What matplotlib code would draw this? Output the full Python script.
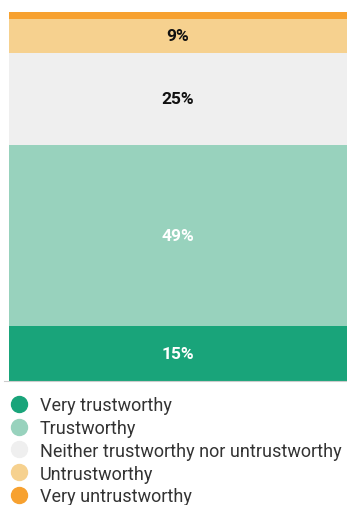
import matplotlib
matplotlib.use("Agg")
import matplotlib.pyplot as plt
from matplotlib.lines import Line2D

categories = ["Very trustworthy", "Trustworthy", "Neither trustworthy nor untrustworthy",
              "Untrustworthy", "Very untrustworthy"]
values = [15, 49, 25, 9, 2]
labels = ["15%", "49%", "25%", "9%", ""]
colors = ["#19a47a", "#98d2bd", "#efefef", "#f6d18f", "#f7a12f"]
text_colors = ["white", "white", "#111111", "#111111", "#111111"]

plt.rcParams['font.family'] = ['Roboto', 'DejaVu Sans']

W, H = 347, 506
fig = plt.figure(figsize=(W / 100, H / 100), dpi=100)
ax = fig.add_axes([4 / W, (H - 382) / H, 1 - 4 / W, (382 - 13) / H])

bottom = 0
for v, lab, c, tc in zip(values, labels, colors, text_colors):
    ax.bar(0, v, bottom=bottom, width=1, color=c, align="edge")
    if lab:
        ax.text(0.5, bottom + v / 2, lab, ha="center", va="center",
                fontsize=12.5, fontweight="bold", color=tc)
    bottom += v

ax.set_xlim(-5 / 338, 1)
ax.set_ylim(0, sum(values))
ax.axis("off")
ax.axhline(0, color="#cccccc", lw=0.8, clip_on=False)

handles = [Line2D([], [], marker="o", linestyle="", markersize=11.5, color=c) for c in colors]
fig.legend(handles, categories, loc="upper left", bbox_to_anchor=(8 / W, (H - 397) / H),
           frameon=False, fontsize=13, labelspacing=0.27, handletextpad=0.55,
           handlelength=1.2, borderaxespad=0, borderpad=0, labelcolor="#333333")

fig.savefig("out.png", dpi=100)
